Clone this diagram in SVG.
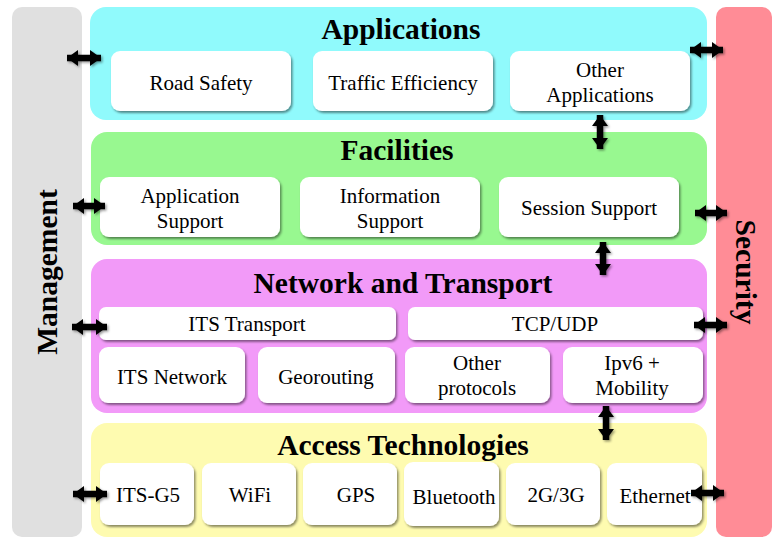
<svg xmlns="http://www.w3.org/2000/svg" width="773" height="538" viewBox="0 0 773 538">
<defs>
<filter id="sh" x="-10%" y="-10%" width="125%" height="140%">
<feDropShadow dx="1.5" dy="2" stdDeviation="1.3" flood-color="#000" flood-opacity="0.45"/>
</filter>
<filter id="ash" filterUnits="userSpaceOnUse" x="0" y="0" width="773" height="538">
<feDropShadow dx="1.5" dy="1.5" stdDeviation="1.2" flood-color="#000" flood-opacity="0.4"/>
</filter>
<marker id="ah" markerUnits="userSpaceOnUse" markerWidth="14" markerHeight="18" refX="12" refY="8.5" orient="auto-start-reverse">
<path d="M1,0.5 L12,8.5 L1,16.5 z" fill="#000"/>
</marker>
</defs>
<style>
.box{fill:#fff;filter:url(#sh)}
.t{font-family:"Liberation Serif","Times New Roman",serif;font-size:21px;fill:#000;text-anchor:middle}
.h{font-family:"Liberation Serif","Times New Roman",serif;font-size:29.5px;font-weight:bold;fill:#000;text-anchor:middle}
.a{stroke:#000;stroke-width:6.5;fill:none;marker-start:url(#ah);marker-end:url(#ah)}
</style>
<rect width="773" height="538" fill="#fff"/>
<g id="management">
<rect x="12" y="7" width="70" height="530" rx="10" fill="#e0e0e0"/>
<text class="h" transform="translate(57,272) rotate(-90)">Management</text>
</g>
<g id="security">
<rect x="716" y="7" width="56" height="530" rx="10" fill="#ff8c96"/>
<text class="h" transform="translate(736,272) rotate(90)">Security</text>
</g>
<g id="applications">
<rect x="90" y="7" width="617" height="113" rx="16" fill="#90fafc"/>
<text class="h" x="401" y="39">Applications</text>
</g>
<g id="road-safety"><rect class="box" x="111" y="51" width="180" height="60" rx="9"/><text class="t" x="201" y="90">Road Safety</text></g>
<g id="traffic-efficiency"><rect class="box" x="313" y="51" width="180" height="60" rx="9"/><text class="t" x="403" y="90">Traffic Efficiency</text></g>
<g id="other-applications"><rect class="box" x="510" y="51" width="180" height="60" rx="9"/><text class="t" x="600" y="77">Other</text><text class="t" x="600" y="102">Applications</text></g>
<g id="facilities">
<rect x="91" y="132" width="616" height="113" rx="16" fill="#98f890"/>
<text class="h" x="397" y="160">Facilities</text>
</g>
<g id="application-support"><rect class="box" x="100" y="177" width="180" height="60" rx="9"/><text class="t" x="190" y="203">Application</text><text class="t" x="190" y="228">Support</text></g>
<g id="information-support"><rect class="box" x="300" y="177" width="180" height="60" rx="9"/><text class="t" x="390" y="203">Information</text><text class="t" x="390" y="228">Support</text></g>
<g id="session-support"><rect class="box" x="499" y="177" width="180" height="60" rx="9"/><text class="t" x="589" y="215">Session Support</text></g>
<g id="network-transport">
<rect x="91" y="259" width="616" height="154" rx="16" fill="#f29af8"/>
<text class="h" x="403" y="293">Network and Transport</text>
</g>
<g id="its-transport"><rect class="box" x="99" y="307" width="297" height="33" rx="7"/><text class="t" x="247" y="331">ITS Transport</text></g>
<g id="tcp-udp"><rect class="box" x="408" y="307" width="295" height="33" rx="7"/><text class="t" x="555" y="331">TCP/UDP</text></g>
<g id="its-network"><rect class="box" x="99" y="347" width="146" height="56" rx="9"/><text class="t" x="172" y="384">ITS Network</text></g>
<g id="georouting"><rect class="box" x="258" y="347" width="137" height="56" rx="9"/><text class="t" x="326" y="384">Georouting</text></g>
<g id="other-protocols"><rect class="box" x="405" y="347" width="145" height="56" rx="9"/><text class="t" x="477" y="370">Other</text><text class="t" x="477" y="395">protocols</text></g>
<g id="ipv6-mobility"><rect class="box" x="563" y="347" width="140" height="56" rx="9"/><text class="t" x="632" y="370">Ipv6 +</text><text class="t" x="632" y="395">Mobility</text></g>
<g id="access-technologies">
<rect x="91" y="423" width="616" height="114" rx="16" fill="#fefbb0"/>
<text class="h" x="403" y="455">Access Technologies</text>
</g>
<g id="its-g5"><rect class="box" x="100" y="463" width="94" height="62" rx="9"/><text class="t" x="148" y="502">ITS-G5</text></g>
<g id="wifi"><rect class="box" x="202" y="463" width="94" height="62" rx="9"/><text class="t" x="250" y="502">WiFi</text></g>
<g id="gps"><rect class="box" x="303" y="463" width="94" height="62" rx="9"/><text class="t" x="356" y="502">GPS</text></g>
<g id="bluetooth"><rect class="box" x="404" y="462" width="95" height="64" rx="9"/><text class="t" x="454" y="504">Bluetooth</text></g>
<g id="g2g3g"><rect class="box" x="506" y="463" width="94" height="62" rx="9"/><text class="t" x="556" y="502">2G/3G</text></g>
<g id="ethernet"><rect class="box" x="607" y="463" width="95" height="62" rx="9"/><text class="t" x="655" y="503">Ethernet</text></g>
<g id="connectors" filter="url(#ash)">
<line class="a" x1="67" y1="58" x2="101" y2="58"/>
<line class="a" x1="690" y1="50" x2="723" y2="50"/>
<line class="a" x1="600" y1="115" x2="600" y2="149"/>
<line class="a" x1="73" y1="206" x2="105" y2="206"/>
<line class="a" x1="695" y1="213" x2="727" y2="213"/>
<line class="a" x1="603" y1="242" x2="603" y2="275"/>
<line class="a" x1="72" y1="327" x2="107" y2="327"/>
<line class="a" x1="694" y1="325" x2="727" y2="325"/>
<line class="a" x1="606" y1="406" x2="606" y2="440"/>
<line class="a" x1="73" y1="494" x2="107" y2="494"/>
<line class="a" x1="691" y1="493" x2="724" y2="493"/>
</g>
</svg>
